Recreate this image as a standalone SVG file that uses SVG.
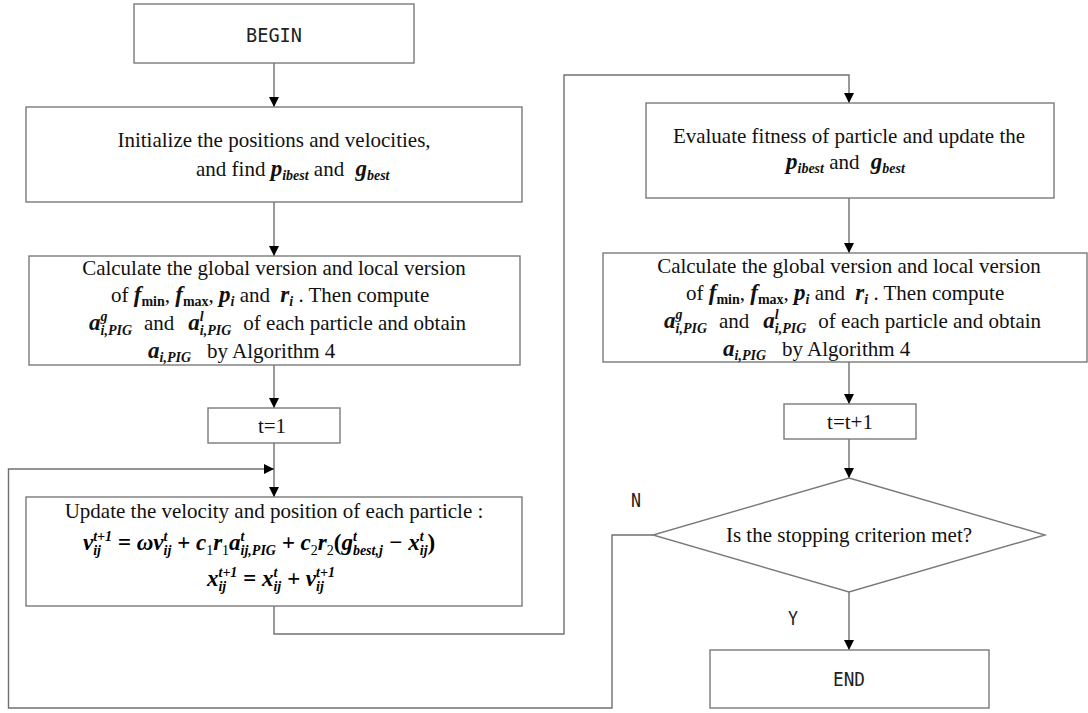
<svg xmlns="http://www.w3.org/2000/svg" width="1088" height="713" viewBox="0 0 1088 713">
<defs>
<style>
.box{fill:#fff;stroke:#7a7a7a;stroke-width:1.4}
.con{fill:none;stroke:#707070;stroke-width:1.4}
.t{font-family:"Liberation Serif","Times New Roman",serif;font-size:21px;fill:#111}
.c{text-anchor:middle}
.m{font-family:"Liberation Serif","Times New Roman",serif;font-style:italic;font-weight:bold;font-size:23px}
.s{font-style:italic;font-weight:bold;font-size:14px}
.sb{font-weight:bold;font-size:14px;font-style:normal}
.sn{font-weight:normal;font-size:14px;font-style:normal}
.k{font-family:"DejaVu Sans Mono","Liberation Mono",monospace;font-size:20px;fill:#222;text-anchor:middle}
</style>
<marker id="ah" markerUnits="userSpaceOnUse" markerWidth="10" markerHeight="10" refX="10" refY="5" orient="auto">
<path d="M0,0 L10,5 L0,10 z" fill="#000"/>
</marker>
</defs>
<rect width="1088" height="713" fill="#fff"/>

<g id="connectors">
<path class="con" d="M274,63 V107" marker-end="url(#ah)"/>
<path class="con" d="M274,202 V256" marker-end="url(#ah)"/>
<path class="con" d="M274,365 V408" marker-end="url(#ah)"/>
<path class="con" d="M274,443 V497" marker-end="url(#ah)"/>
<path class="con" d="M274,606 V634 H564 V75 H849 V103" marker-end="url(#ah)"/>
<path class="con" d="M849,198 V253" marker-end="url(#ah)"/>
<path class="con" d="M849,362 V404" marker-end="url(#ah)"/>
<path class="con" d="M849,439 V478" marker-end="url(#ah)"/>
<path class="con" d="M849,592 V650" marker-end="url(#ah)"/>
<path class="con" d="M653,535 H612 V708 H8.5 V469 H274" marker-end="url(#ah)"/>
<text class="k" x="636" y="507" textLength="10" lengthAdjust="spacingAndGlyphs">N</text>
<text class="k" x="793" y="625" textLength="10" lengthAdjust="spacingAndGlyphs">Y</text>
</g>

<g id="begin">
<rect class="box" x="134" y="4" width="280" height="59"/>
<text class="k" x="274" y="42" textLength="56" lengthAdjust="spacingAndGlyphs">BEGIN</text>
</g>

<g id="init">
<rect class="box" x="26" y="107" width="496" height="95"/>
<text class="t c" x="274" y="147">Initialize the positions and velocities,</text>
<text class="t" x="196" y="176">and find <tspan class="m">p</tspan><tspan class="s" dy="4">ibest</tspan><tspan dy="-4"> and </tspan><tspan class="m" dx="6">g</tspan><tspan class="s" dy="4">best</tspan></text>
</g>

<g id="calc1">
<rect class="box" x="29" y="256" width="491" height="109"/>
<text class="t c" x="274" y="275">Calculate the global version and  local version</text>
<text class="t" x="111" y="302">of <tspan class="m">f</tspan><tspan class="sb" dy="4">min</tspan><tspan dy="-4">, </tspan><tspan class="m">f</tspan><tspan class="sb" dy="4">max</tspan><tspan dy="-4">, </tspan><tspan class="m">p</tspan><tspan class="s" dy="4">i</tspan><tspan dy="-4"> and </tspan><tspan class="m" dx="5">r</tspan><tspan class="s" dy="4">i</tspan><tspan dy="-4"> . Then compute</tspan></text>
<text class="t" x="89" y="330"><tspan class="m">a</tspan><tspan class="s" dy="-9">g</tspan><tspan class="s" dx="-7" dy="14">i,PIG</tspan><tspan dx="12" dy="-5">and</tspan><tspan class="m" dx="14">a</tspan><tspan class="s" dy="-9">l</tspan><tspan class="s" dx="-3.9" dy="14">i,PIG</tspan><tspan dx="12" dy="-5">of each particle and obtain</tspan></text>
<text class="t" x="148" y="358"><tspan class="m">a</tspan><tspan class="s" dy="4">i,PIG</tspan><tspan dx="16" dy="-4">by Algorithm 4</tspan></text>
</g>

<g id="t1">
<rect class="box" x="208" y="408" width="132" height="35"/>
<text class="t c" x="272" y="433">t=1</text>
</g>

<g id="update">
<rect class="box" x="26" y="497" width="496" height="109"/>
<text class="t c" x="274" y="518">Update the velocity and position of each particle :</text>
<text class="m" x="83" y="550">v<tspan class="s" dy="-9">t+1</tspan><tspan class="s" dx="-18.9" dy="14">ij</tspan><tspan dx="11.1" dy="-5"> = </tspan>ωv<tspan class="s" dy="-9">t</tspan><tspan class="s" dx="-3.9" dy="14">ij</tspan><tspan dy="-5"> + c</tspan><tspan class="sn" dy="5">1</tspan><tspan dy="-5">r</tspan><tspan class="sn" dy="5">1</tspan><tspan dy="-5">a</tspan><tspan class="s" dy="-9">t</tspan><tspan class="s" dx="-3.9" dy="14">ij,PIG</tspan><tspan dy="-5"> + c</tspan><tspan class="sn" dy="5">2</tspan><tspan dy="-5">r</tspan><tspan class="sn" dy="5">2</tspan><tspan dy="-5" font-style="normal">(</tspan>g<tspan class="s" dy="-9">t</tspan><tspan class="s" dx="-3.9" dy="14">best,j</tspan><tspan dy="-5"> − x</tspan><tspan class="s" dy="-9">t</tspan><tspan class="s" dx="-3.9" dy="14">ij</tspan><tspan dy="-5" font-style="normal">)</tspan></text>
<text class="m" x="207" y="586">x<tspan class="s" dy="-9">t+1</tspan><tspan class="s" dx="-18.9" dy="14">ij</tspan><tspan dx="11.1" dy="-5"> = x</tspan><tspan class="s" dy="-9">t</tspan><tspan class="s" dx="-3.9" dy="14">ij</tspan><tspan dy="-5"> + v</tspan><tspan class="s" dy="-9">t+1</tspan><tspan class="s" dx="-18.9" dy="14">ij</tspan></text>
</g>

<g id="evaluate">
<rect class="box" x="646" y="103" width="408" height="95"/>
<text class="t c" x="849" y="143">Evaluate fitness of particle and update the</text>
<text class="t" x="786" y="169"><tspan class="m">p</tspan><tspan class="s" dy="4">ibest</tspan><tspan dy="-4"> and </tspan><tspan class="m" dx="6">g</tspan><tspan class="s" dy="4">best</tspan></text>
</g>

<g id="calc2">
<rect class="box" x="603" y="253" width="484" height="109"/>
<g transform="translate(575,-2)">
<text class="t c" x="274" y="275">Calculate the global version and  local version</text>
<text class="t" x="111" y="302">of <tspan class="m">f</tspan><tspan class="sb" dy="4">min</tspan><tspan dy="-4">, </tspan><tspan class="m">f</tspan><tspan class="sb" dy="4">max</tspan><tspan dy="-4">, </tspan><tspan class="m">p</tspan><tspan class="s" dy="4">i</tspan><tspan dy="-4"> and </tspan><tspan class="m" dx="5">r</tspan><tspan class="s" dy="4">i</tspan><tspan dy="-4"> . Then compute</tspan></text>
<text class="t" x="89" y="330"><tspan class="m">a</tspan><tspan class="s" dy="-9">g</tspan><tspan class="s" dx="-7" dy="14">i,PIG</tspan><tspan dx="12" dy="-5">and</tspan><tspan class="m" dx="14">a</tspan><tspan class="s" dy="-9">l</tspan><tspan class="s" dx="-3.9" dy="14">i,PIG</tspan><tspan dx="12" dy="-5">of each particle and obtain</tspan></text>
<text class="t" x="148" y="358"><tspan class="m">a</tspan><tspan class="s" dy="4">i,PIG</tspan><tspan dx="16" dy="-4">by Algorithm 4</tspan></text>
</g>
</g>

<g id="tinc">
<rect class="box" x="784" y="404" width="132" height="35"/>
<text class="t c" x="850" y="429">t=t+1</text>
</g>

<g id="decision">
<path class="box" d="M849,478 L1045,535 L849,592 L653,535 Z"/>
<text class="t c" x="849" y="542">Is the stopping criterion met?</text>
</g>

<g id="end">
<rect class="box" x="710" y="650" width="279" height="58"/>
<text class="k" x="849" y="686" textLength="32" lengthAdjust="spacingAndGlyphs">END</text>
</g>
</svg>
